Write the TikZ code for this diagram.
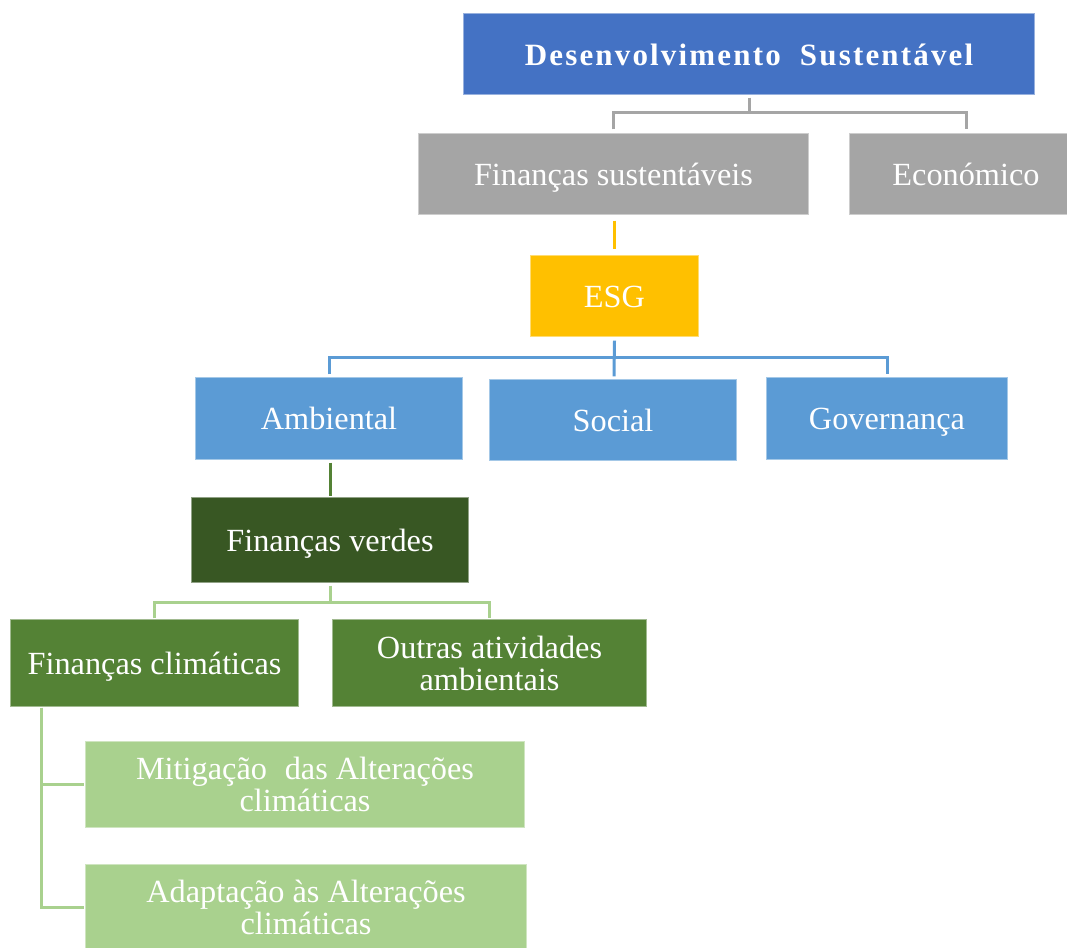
\documentclass[tikz,border=0pt]{standalone}
\usepackage{fontspec}
\setmainfont{Liberation Serif}
\definecolor{cTitle}{HTML}{4472C4}
\definecolor{cGray}{HTML}{A5A5A5}
\definecolor{cYellow}{HTML}{FFC000}
\definecolor{cBlue}{HTML}{5B9BD5}
\definecolor{cDark}{HTML}{385723}
\definecolor{cGreen}{HTML}{548235}
\definecolor{cLight}{HTML}{A9D18E}
% invisible struts that fix the height of the first line and the depth of the last
\newcommand\topstrut{\rule{0pt}{31pt}}
\newcommand\botstrut{\rule[-8.2pt]{0pt}{8.2pt}}
\begin{document}
\begin{tikzpicture}[x=1pt,y=-1pt,
  box/.style={rectangle, draw=white, draw opacity=0.45, line width=1.2pt,
    text=white, align=center, inner sep=0pt,
    font=\fontsize{32.3}{32}\selectfont,
    execute at begin node=\topstrut, execute at end node=\botstrut},
  link/.style={line width=3pt}]
\clip (0,0) rectangle (1067,947);

% boxes
\node[box, fill=cTitle, minimum width=572, minimum height=82,
  font=\fontsize{31}{32}\selectfont\bfseries\addfontfeature{LetterSpace=7}]
  (title) at (749,54) {Desenvolvimento\hspace{0.3em} Sustentável};
\node[box, fill=cGray, minimum width=391, minimum height=82] (fin) at (613.5,174) {Finanças sustentáveis};
\node[box, fill=cGray, minimum width=234, minimum height=82] (eco) at (966,174) {Económico};
\node[box, fill=cYellow, minimum width=169, minimum height=82] (esg) at (614.5,296) {ESG};
\node[box, fill=cBlue, minimum width=268, minimum height=83] (amb) at (329,418.5) {Ambiental};
\node[box, fill=cBlue, minimum width=248, minimum height=82] (soc) at (613,420) {Social};
\node[box, fill=cBlue, minimum width=242, minimum height=83] (gov) at (887,418.5) {Governança};
\node[box, fill=cDark, minimum width=278, minimum height=86] (verdes) at (330,540) {Finanças verdes};
\node[box, fill=cGreen, minimum width=289, minimum height=88] (clim) at (154.5,663) {Finanças climáticas};
\node[box, fill=cGreen, minimum width=315, minimum height=88] (outras) at (489.5,663) {\topstrut Outras atividades\\ambientais\botstrut};
\node[box, fill=cLight, minimum width=440, minimum height=87] (mitig) at (305,784.5) {\topstrut Mitigação\hspace{0.3em} das Alterações\\climáticas\botstrut};
\node[box, fill=cLight, minimum width=442, minimum height=87] (adapt) at (306,907.5) {\topstrut Adaptação às Alterações\\climáticas\botstrut};

% bus points
\coordinate (b1) at (749,113);
\coordinate (b2) at (614,357);
\coordinate (b3) at (330,602);
\coordinate (c0) at ([xshift=32pt]clim.south west);

% connectors
\draw[link, cGray] ([yshift=-2pt]title.south) -- (b1);
\draw[link, cGray] ([yshift=3pt]fin.north) |- (b1) -| ([yshift=3pt]eco.north);
\draw[link, cYellow] ([yshift=-5pt]esg.north |- fin.south) -- ([yshift=5pt]esg.north);
\draw[link, cBlue] ([yshift=-3pt]esg.south) -- ([yshift=2pt]b2 |- soc.north);
\draw[link, cBlue] ([yshift=2pt]amb.north) |- (b2) -| ([yshift=2pt]gov.north);
\draw[link, cGreen] ([yshift=-2pt]verdes.north |- amb.south) -- (verdes.north);
\draw[link, cLight] ([yshift=-2pt]verdes.south) -- (b3);
\draw[link, cLight] (clim.north) |- (b3) -| (outras.north);
\draw[link, cLight] (c0) |- (mitig.west);
\draw[link, cLight] (c0) |- (adapt.west);
\end{tikzpicture}
\end{document}
